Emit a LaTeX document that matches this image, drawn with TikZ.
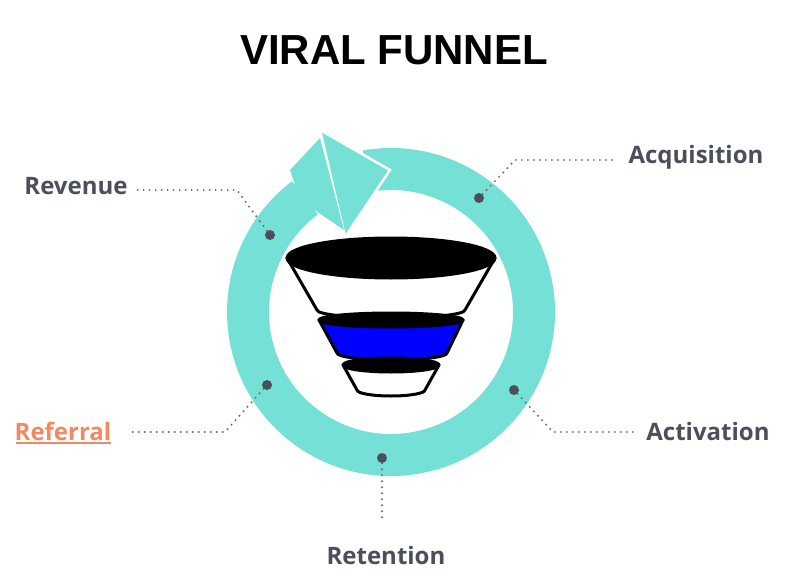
\documentclass[tikz,border=0pt]{standalone}
\usepackage{fontspec}
\setmainfont{Open Sans}
\newfontfamily\titlefont{Liberation Sans}
\definecolor{ring}{HTML}{74E0D6}
\definecolor{lab}{HTML}{4A4F5A}
\definecolor{refc}{HTML}{F4895F}
\begin{document}
\begin{tikzpicture}[x=1pt,y=-1pt,
  lbl/.style={font=\bfseries\fontsize{24}{28}\selectfont,text=lab},
  dot/.style={circle,fill=lab,inner sep=0pt,minimum size=10pt},
  leader/.style={draw=lab!85,line width=2.2pt,dash pattern=on 0pt off 6pt,line cap=round}]
\useasboundingbox (0,0) rectangle (800,583);
% ring
\draw[ring,line width=42pt] (391,312) ++(-100:143) arc[start angle=-100,end angle=233,radius=143];
\fill[ring,draw=white,line width=2.5pt] (320,130) -- (390,170) -- (345,237) -- cycle;
\fill[ring] (320,138) -- (344,230) -- (300,200) -- (290,170) -- cycle;
% funnel
\begin{scope}[line width=3pt,line join=round]
\filldraw[fill=white] (287,258) -- (317,310) arc[start angle=180,end angle=0,x radius=74,y radius=8] -- (495,258) -- cycle;
\filldraw[fill=black] (391,258) ellipse[x radius=104,y radius=20];
\filldraw[fill=blue] (319,320) -- (337,353) arc[start angle=180,end angle=0,x radius=55,y radius=7] -- (463,320) -- cycle;
\filldraw[fill=black] (391,320) ellipse[x radius=72,y radius=7];
\filldraw[fill=white] (343,365) -- (357,390) arc[start angle=180,end angle=0,x radius=34,y radius=6] -- (439,365) -- cycle;
\filldraw[fill=black] (391,365) ellipse[x radius=48,y radius=7];
\end{scope}
% title
\node (title) at (394,50) {\titlefont\bfseries\fontsize{42}{48}\selectfont VIRAL FUNNEL};
% dots
\node[dot] (dacq) at (479,198) {};
\node[dot] (drev) at (270,235) {};
\node[dot] (dref) at (267,385) {};
\node[dot] (dret) at (382,458) {};
\node[dot] (dact) at (514,390) {};
\coordinate (cacq) at (515,160); \coordinate (eacq) at (612,160);
\coordinate (crev) at (237,190); \coordinate (erev) at (135,190);
\coordinate (cref) at (225,432); \coordinate (eref) at (130,432);
\coordinate (eret) at (382,522);
\coordinate (cact) at (553,432); \coordinate (eact) at (635,432);
\path[leader] (dacq) -- (cacq) -- (eacq);
\path[leader] (drev) -- (crev) -- (erev);
\path[leader] (dref) -- (cref) -- (eref);
\path[leader] (dret) -- (eret);
\path[leader] (dact) -- (cact) -- (eact);
% labels
\node[lbl] (acq) at (696,157) {Acquisition};
\node[lbl] (rev) at (76,186) {Revenue};
\node[lbl,text=refc] (ref) at (63,431) {Referral};
\draw[refc,line width=1.5pt] (16,443) -- (111,443);
\node[lbl] (ret) at (386,555) {Retention};
\node[lbl] (act) at (708,431) {Activation};
\end{tikzpicture}
\end{document}
